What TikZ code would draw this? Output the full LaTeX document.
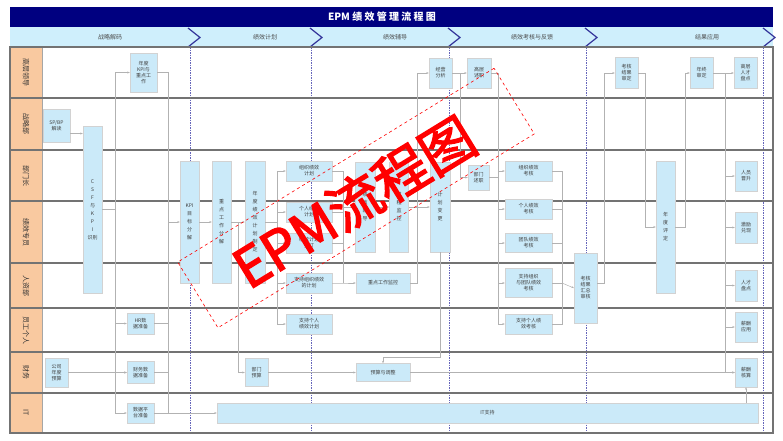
\documentclass[tikz,border=0pt]{standalone}
\usepackage{fontspec}
\setmainfont{Noto Sans CJK SC}
\newfontfamily\stampfont[FakeBold=2.5]{Noto Sans CJK SC}
\usepackage{tikz}
\usetikzlibrary{arrows.meta}
\definecolor{TitleBlue}{HTML}{000080}
\definecolor{PhaseBlue}{HTML}{CFEFFC}
\definecolor{LaneOrange}{HTML}{F9C9A0}
\definecolor{BoxBlue}{HTML}{CBEAF9}

\begin{document}
\begin{tikzpicture}[x=1pt, y=-1pt,
    box/.style={draw=gray!35, fill=BoxBlue, align=center, inner sep=0pt, font=\fontsize{5}{6}\selectfont, text=black!75},
    tall/.style={box, font=\fontsize{5}{8}\selectfont},
    link/.style={draw=gray!60, line width=0.5pt, -{Stealth[length=2.5pt,width=2pt]}},
    wire/.style={draw=gray!60, line width=0.5pt},
    lanesep/.style={draw=black!55, line width=1.3pt},
    phaseline/.style={draw=blue!55!black!60, dash pattern=on 1.5pt off 1pt, line width=0.8pt},
    lanetext/.style={rotate=-90, font=\fontsize{7}{8}\selectfont, text=black!80},
    phasetext/.style={font=\fontsize{6}{7}\selectfont, text=black!70}]
    \useasboundingbox (0,0) rectangle (783,440);

    % Draw title and phase bar
    \fill[TitleBlue] (10,7) rectangle (773,27);
    \node[font=\fontsize{10}{12}\selectfont\bfseries, text=white] (title) at (382,17) {EPM 绩 效 管 理 流 程 图};
    \fill[PhaseBlue] (10,27) rectangle (773,47);
    \foreach \x in {188,310,448,585,763}
        \draw[TitleBlue!80, line width=1.2pt] (\x,28) -- (\x+12,37.5) -- (\x,47);
    \node[phasetext] (ph1) at (110,37.5) {战略解码};
    \node[phasetext] (ph2) at (265,37.5) {绩效计划};
    \node[phasetext] (ph3) at (395,37.5) {绩效辅导};
    \node[phasetext] (ph4) at (532,37.5) {绩效考核与反馈};
    \node[phasetext] (ph5) at (707,37.5) {结果应用};

    % Draw swim lanes
    \fill[LaneOrange] (10,47) rectangle (42,433);
    \draw[gray!70] (42,47) -- (42,433);
    \foreach \x in {190,311,449,586,763}
        \draw[phaseline] (\x,47) -- (\x,433);
    \foreach \y in {98,150,201,263,308,352,393}
        \draw[lanesep] (10,\y) -- (773,\y);
    \draw[black!55, line width=1.3pt] (10,47) rectangle (773,433);
    \foreach \yc/\lab [count=\i] in {72.5/高层领导, 124/战略部, 175.5/部门长, 232/绩效专员, 285.5/人资部, 330/员工个人, 372.5/财务, 413/IT}
        \node[lanetext] (lane\i) at (26,\yc) {\lab};

    % Strategy decoding
    \node[box, minimum width=27, minimum height=39] (kpiplan) at (143.5,72.5) {年度\\KPI与\\重点工\\作};
    \node[box, minimum width=27, minimum height=33] (spbp) at (56.5,125.5) {SP/BP\\解读};
    \node[tall, minimum width=19, minimum height=167] (csf) at (92.5,209.5) {C\\S\\F\\与\\K\\P\\I\\识别};
    \node[box, minimum width=27, minimum height=21] (hrsj) at (140.5,323.5) {HR数\\据准备};
    \node[box, minimum width=23, minimum height=29] (gsys) at (56.5,372.5) {公司\\年度\\预算};
    \node[box, minimum width=27, minimum height=22] (cwsj) at (140.5,372.5) {财务数\\据准备};
    \node[box, minimum width=27, minimum height=20] (sjpt) at (140.5,413) {数据平\\台准备};

    % Performance planning
    \node[tall, minimum width=19, minimum height=122] (kpifj) at (189.5,222) {KPI\\目\\标\\分\\解};
    \node[tall, minimum width=19, minimum height=122] (zdfj) at (221.5,222) {重\\点\\工\\作\\分\\解};
    \node[tall, minimum width=20, minimum height=122] (ndjh) at (255,222) {年\\度\\绩\\效\\计\\划\\制\\定};
    \node[box, minimum width=46, minimum height=20] (zzjh) at (309,171) {组织绩效\\计划};
    \node[box, minimum width=46, minimum height=20] (grjh) at (309,212) {个人绩效\\计划};
    \node[box, minimum width=46, minimum height=20] (jhqd) at (309,243) {绩效计划\\签订};
    \node[box, minimum width=46, minimum height=20] (zczz) at (309,283) {支持组织绩效\\的计划};
    \node[box, minimum width=46, minimum height=20] (zcgr) at (309,324) {支持个人\\绩效计划};
    \node[box, minimum width=23, minimum height=28] (bmys) at (256.5,372.5) {部门\\预算};

    % Performance coaching
    \node[tall, minimum width=20, minimum height=90] (fd1) at (365,207) {绩\\效\\辅\\导};
    \node[tall, minimum width=19, minimum height=90] (fd2) at (399,207) {过\\程\\监\\控};
    \node[tall, minimum width=20, minimum height=90] (jhbg) at (440,207) {计\\划\\变\\更};
    \node[box, minimum width=54, minimum height=20] (zdjk) at (383,283) {重点工作监控};
    \node[box, minimum width=54, minimum height=18] (ystz) at (383,372.5) {预算与调整};
    \node[box, minimum width=23, minimum height=30] (jyfx) at (440.5,73) {经营\\分析};
    \node[box, minimum width=24, minimum height=30] (gcsz) at (479,73) {高层\\述职};

    % Assessment and feedback
    \node[box, minimum width=21, minimum height=25] (bmsz) at (478.5,177.5) {部门\\述职};
    \node[box, minimum width=47, minimum height=20] (zzkh) at (528.5,171) {组织绩效\\考核};
    \node[box, minimum width=47, minimum height=20] (grkh) at (528.5,209) {个人绩效\\考核};
    \node[box, minimum width=47, minimum height=19] (tdkh) at (528.5,243) {团队绩效\\考核};
    \node[box, minimum width=47, minimum height=29] (zczk) at (528.5,283) {支持组织\\与团队绩效\\考核};
    \node[box, minimum width=47, minimum height=20] (zcgk) at (528.5,324) {支持个人绩\\效考核};
    \node[box, minimum width=23, minimum height=70] (khhz) at (585.5,288) {考核\\结果\\汇总\\审核};

    % Result application
    \node[box, minimum width=23, minimum height=31] (khsd) at (626.5,73) {考核\\结果\\审定};
    \node[box, minimum width=23, minimum height=31] (nzsd) at (701.5,73) {年终\\审定};
    \node[box, minimum width=23, minimum height=31] (rcpd) at (745.5,73) {高层\\人才\\盘点};
    \node[tall, minimum width=19, minimum height=132] (ndpd) at (665.5,227) {年\\度\\评\\定};
    \node[box, minimum width=22, minimum height=30] (rysj) at (746,176) {人员\\晋升};
    \node[box, minimum width=22, minimum height=31] (jldx) at (746,227.5) {激励\\兑现};
    \node[box, minimum width=22, minimum height=31] (rcpd2) at (746,285.5) {人才\\盘点};
    \node[box, minimum width=22, minimum height=30] (xcyy) at (746,327) {薪酬\\应用};
    \node[box, minimum width=22, minimum height=29] (xchs) at (746,372.5) {薪酬\\核算};
    \node[box, minimum width=541, minimum height=20] (itzc) at (487.5,413) {IT支持};

    % Bus points
    \coordinate (busA) at (115,209.5);
    \coordinate (busB) at (168,222);
    \coordinate (busC) at (238,222);
    \coordinate (busD) at (277,222);
    \coordinate (busE) at (343,283);
    \coordinate (busF) at (417,283);
    \coordinate (busG) at (440,357);
    \coordinate (busG2) at (383,357);
    \coordinate (busH) at (498,73);
    \coordinate (busI) at (460,73);
    \coordinate (busJ) at (562,283);
    \coordinate (busK) at (604,283);
    \coordinate (busL) at (645,73);
    \coordinate (busM) at (685,227);
    \coordinate (busN) at (725,73);

    % Draw connectors
    \draw[link] ([yshift=-8pt]spbp.east) -- ([yshift=-8pt]spbp.east -| csf.west);
    \foreach \t in {kpiplan,hrsj,cwsj,sjpt}
        \draw[link] (csf.east) -- (busA) |- (\t.west);
    \foreach \s in {kpiplan,hrsj,cwsj,sjpt}
        \draw[wire] (\s.east) -| (busB);
    \draw[link] (busB) -- (kpifj.west);
    \draw[link] (gsys) -- (cwsj);
    \draw[link] (sjpt) -- (sjpt -| itzc.west);
    \draw[link] (kpifj) -- (zdfj);
    \draw[link] (zdfj) -- (ndjh);
    \draw[link] (busC) |- (bmys.west);
    \foreach \t in {zzjh,grjh,jhqd,zczz,zcgr}
        \draw[link] (ndjh.east) -- (busD) |- (\t.west);
    \foreach \s in {zzjh,grjh,jhqd}
        \draw[wire] (\s.east) -| (busE);
    \draw[link] (zczz) -- (busE) -- (zdjk.west);
    \draw[link] (busE |- fd1) -- (fd1.west);
    \draw[link] (fd1) -- (fd2);
    \draw[link] (fd2) -- (jhbg);
    \draw[link] (zdjk.east) -- (busF) |- (jyfx.west);
    \draw[link] (jyfx) -- (gcsz);
    \draw[link] (busI) |- (bmsz.west);
    \draw[link] (bmys) -- (ystz);
    \draw[link] (jhbg.south) -- (busG) -- (busG2) -- (ystz.north);
    \draw[link] (ystz) -- (ystz -| xchs.west);
    \foreach \t in {zzkh,grkh,tdkh,zczk,zcgk}
        \draw[link] (gcsz.east) -- (busH) |- (\t.west);
    \draw[wire] (bmsz.east) -- (bmsz.east -| busH);
    \foreach \s in {zzkh,grkh,tdkh,zczk,zcgk}
        \draw[wire] (\s.east) -| (busJ);
    \draw[link] (busJ) -- (khhz.west);
    \draw[link] (khhz.east |- busK) -- (busK) |- (khsd.west);
    \draw[link] (khsd.east) -- (busL) |- (ndpd.west);
    \draw[link] (ndpd.east) -- (busM) |- (nzsd.west);
    \draw[link] (nzsd) -- (rcpd);
    \foreach \t in {rysj,jldx,rcpd2,xcyy,xchs}
        \draw[link] (nzsd.east) -- (busN) |- (\t.west);
    \draw[link] (itzc.north -| xchs) -- (xchs.south);

    % Draw stamp
    \node[rotate=31.5, draw=red, dashed, line width=0.6pt, minimum width=371, minimum height=77] (stamp) at (356,198) {};
    \node[rotate=31.5, text=red, font=\fontsize{54}{54}\stampfont] (stamptext) at (354,202) {EPM流程图};
\end{tikzpicture}
\end{document}
